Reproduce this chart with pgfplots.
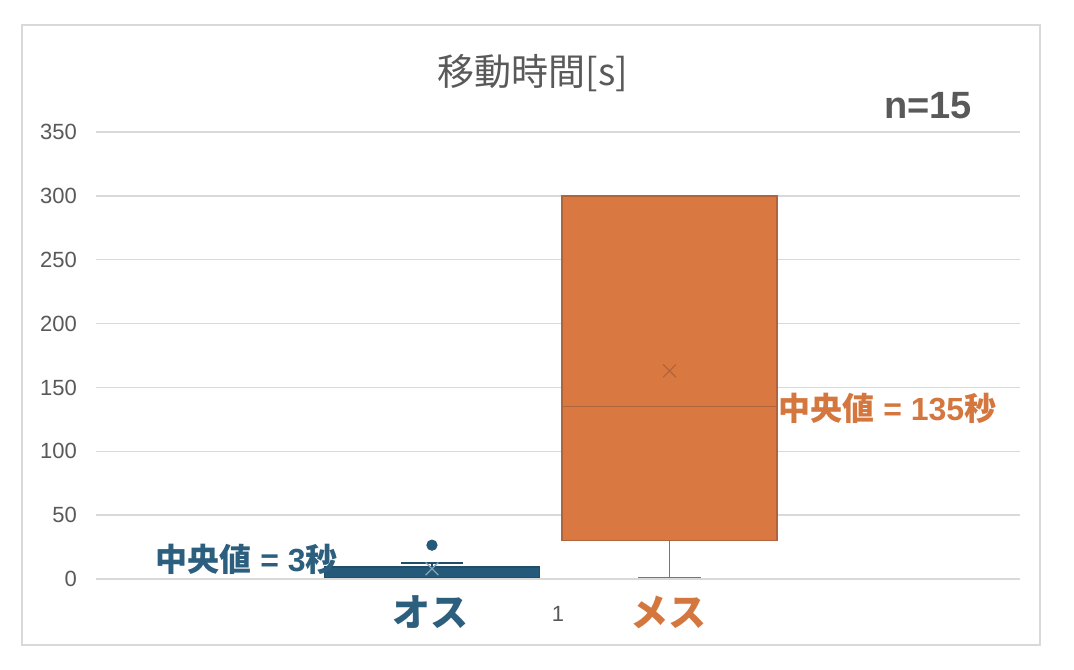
\documentclass[border=0pt]{standalone}
\usepackage{fontspec}
\setmainfont{Liberation Sans}
\newfontfamily\jp{Noto Sans CJK JP}
\usepackage{pgfplots}
\pgfplotsset{compat=1.18}

\definecolor{gridgray}{HTML}{D9D9D9}
\definecolor{framegray}{HTML}{D9D9D9}
\definecolor{textgray}{HTML}{595959}
\definecolor{bluefill}{HTML}{25597A}
\definecolor{blueedge}{HTML}{1F4D6A}
\definecolor{bluetext}{HTML}{2C5E7E}
\definecolor{orangefill}{HTML}{D97841}
\definecolor{orangeedge}{HTML}{B0643B}
\definecolor{orangetext}{HTML}{D4773F}

\begin{document}
\begin{tikzpicture}
\path[use as bounding box] (0,0) rectangle (537pt,-334.5pt);
\draw[framegray, line width=0.75pt] (11pt,-12.5pt) rectangle (520pt,-322.5pt);

\begin{axis}[
    at={(48pt,-289.5pt)}, anchor=south west,
    scale only axis,
    width=462pt, height=223.5pt,
    xmin=0, xmax=1,
    ymin=0, ymax=350,
    ytick={0,50,...,350},
    xtick={0.5}, xticklabels={1},
    axis line style={draw=none},
    tick style={draw=none},
    ymajorgrids=true,
    grid style={color=gridgray, line width=0.75pt},
    /pgf/number format/assume math mode=true,
    ticklabel style={font=\fontsize{11}{13}\selectfont, text=textgray},
    yticklabel style={xshift=-6pt},
    xticklabel style={yshift=-10pt},
    clip=false,
]

% オス: box 1 -- 9.5, median 3, whisker 12.5, outlier 26.5, mean 8
\addplot[draw=blueedge, line width=0.75pt]
    coordinates {(0.3636,9.5)(0.3636,12.5)};
\addplot[draw=blueedge, line width=0.75pt]
    coordinates {(0.3296,12.5)(0.3976,12.5)};
\addplot[draw=blueedge, fill=bluefill, line width=0.75pt]
    coordinates {(0.2473,1)(0.4800,1)(0.4800,9.5)(0.2473,9.5)} --cycle;
\addplot[only marks, mark=x, mark size=4.5pt, color=bluefill!55!white, line width=0.6pt]
    coordinates {(0.3636,8)};
\addplot[only marks, mark=*, mark size=2.6pt, color=bluefill]
    coordinates {(0.3636,26.5)};

% メス: box 30 -- 300, median 135, whisker 1, mean 163
\addplot[draw=orangeedge, line width=0.75pt]
    coordinates {(0.6207,30)(0.6207,1)};
\addplot[draw=orangeedge, line width=0.75pt]
    coordinates {(0.5867,1)(0.6547,1)};
\addplot[draw=orangeedge, fill=orangefill, line width=0.75pt]
    coordinates {(0.5044,30)(0.7371,30)(0.7371,300)(0.5044,300)} --cycle;
\addplot[draw=orangeedge, line width=0.75pt]
    coordinates {(0.5044,135)(0.7371,135)};
\addplot[only marks, mark=x, mark size=4.5pt, color=orangeedge, line width=0.6pt]
    coordinates {(0.6207,163)};
\end{axis}

\node[font=\jp\fontsize{18.5}{21}\selectfont, text=textgray] at (266.5pt,-36.5pt) {移動時間[s]};
\node[font=\bfseries\fontsize{19}{21}\selectfont, text=textgray] at (464pt,-53pt) {n=15};
\node[anchor=west, inner sep=0pt, font=\bfseries\fontsize{16}{18}\selectfont, text=bluetext]
    at (77.5pt,-279.5pt) {{\jp 中央値} = 3{\jp 秒}};
\node[anchor=west, inner sep=0pt, font=\bfseries\fontsize{16}{18}\selectfont, text=orangetext]
    at (389pt,-204pt) {{\jp 中央値} = 135{\jp 秒}};
\node[font=\jp\bfseries\fontsize{19}{21}\selectfont, text=bluetext] at (215pt,-306pt) {オス};
\node[font=\jp\bfseries\fontsize{19}{21}\selectfont, text=orangetext] at (334pt,-306pt) {メス};
\end{tikzpicture}
\end{document}
